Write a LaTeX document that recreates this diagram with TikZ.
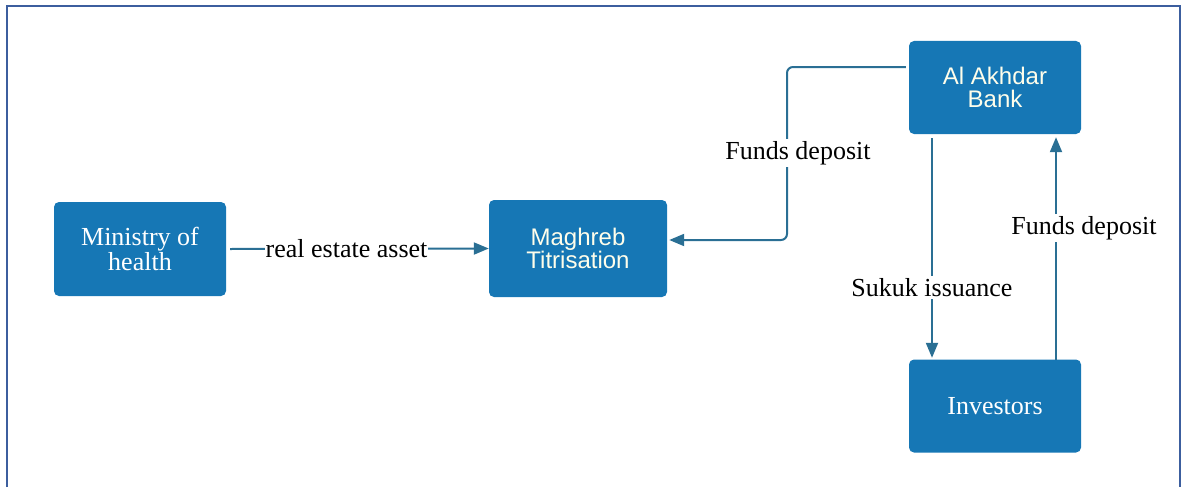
\documentclass[tikz,border=0pt]{standalone}
\usepackage{fontspec}
\setmainfont{Liberation Serif}
\setsansfont{Liberation Sans}
\usetikzlibrary{arrows.meta}
\definecolor{boxblue}{HTML}{1677B5}
\definecolor{flowline}{HTML}{2A6F94}
\definecolor{frameblue}{HTML}{3C5E9E}
\begin{document}
\begin{tikzpicture}[x=1pt,y=-1pt,
  party/.style={fill=boxblue,rounded corners=5pt,text=white,align=center,
    font=\fontsize{26}{24.5}\selectfont},
  agent/.style={party,text=white!92!yellow,font=\sffamily\fontsize{24}{23.5}\selectfont},
  flow/.style={flowline,line width=2pt,-{Triangle[length=15pt,width=12pt]}},
  flowlabel/.style={fill=white,text=black,inner sep=2pt,font=\fontsize{26}{30}\selectfont}]
  \useasboundingbox (0,0) rectangle (1182,487);
  \draw[frameblue,line width=2.5pt] (7,487)--(7,6)--(1180,6)--(1180,487); % frame
  \node[party,minimum width=172pt,minimum height=94pt] (ministry) at (140,249) {Ministry of\\health};
  \node[agent,minimum width=178pt,minimum height=97pt] (maghreb) at (578,248.5) {Maghreb\\Titrisation};
  \node[agent,minimum width=172pt,minimum height=93pt] (bank) at (995,87.5) {Al Akhdar\\Bank};
  \node[party,minimum width=172pt,minimum height=93pt] (investors) at (995,406) {Investors};
  % flows
  \draw[flow] ([xshift=4pt]ministry.east) -- (maghreb.west)
    node[flowlabel,pos=0.45,inner sep=1pt] (asset) {real estate asset};
  \draw[flow,rounded corners=6pt] ([xshift=-3pt,yshift=20.5pt]bank.west) -- (787,67)
    -- (787,240) -- ([xshift=2pt,yshift=8.5pt]maghreb.east);
  \node[flowlabel] (deposit1) at (798,153) {Funds deposit};
  \draw[flow] ([xshift=-63pt,yshift=-4pt]bank.south) -- ([xshift=-63pt,yshift=1.5pt]investors.north)
    node[flowlabel,pos=0.68] (sukuk) {Sukuk issuance};
  \draw[flow] ([xshift=61pt,yshift=-0.5pt]investors.north) -- ([xshift=61pt,yshift=-3pt]bank.south);
  \node[flowlabel] (deposit2) at (1084,228) {Funds deposit};
\end{tikzpicture}
\end{document}
